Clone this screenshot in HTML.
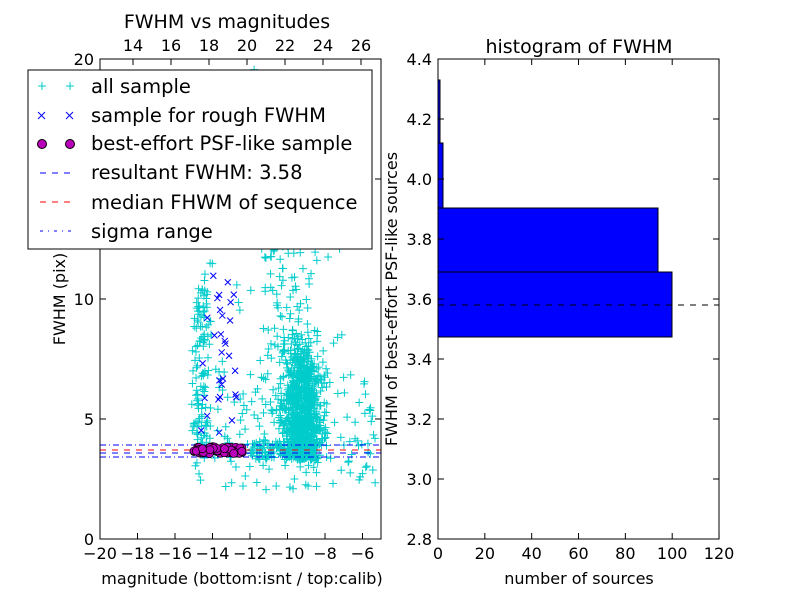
<!DOCTYPE html>
<html><head><style>body{margin:0;background:#fff}svg text{font-family:"DejaVu Sans","Liberation Sans",sans-serif}</style></head>
<body>
<svg id="s" width="800" height="600" xmlns="http://www.w3.org/2000/svg">
<rect width="800" height="600" fill="#fff"/>
<g id="pts"></g>
<line x1="100" x2="381" y1="445" y2="445" stroke="#00f" stroke-dasharray="6,3,1,3"/>
<line x1="100" x2="381" y1="457" y2="457" stroke="#00f" stroke-dasharray="6,3,1,3"/>
<line x1="100" x2="381" y1="450" y2="450" stroke="#f00" stroke-dasharray="6,6"/>
<line x1="100" x2="381" y1="453" y2="453" stroke="#00f" stroke-dasharray="6,6"/>
<g id="circ"></g>
<rect x="100" y="59" width="281" height="480" fill="none" stroke="#000"/>
<g id="lt" font-size="16"></g>
<text x="227" y="28" font-size="19" text-anchor="middle">FWHM vs magnitudes</text>
<text x="242" y="584" font-size="16" text-anchor="middle">magnitude (bottom:isnt / top:calib)</text>
<text transform="translate(65,299) rotate(-90)" font-size="16" text-anchor="middle">FWHM (pix)</text>
<rect x="28" y="70" width="344" height="179" fill="#fff" stroke="#000"/>
<g font-size="19.5">
<text x="91" y="93">all sample</text>
<text x="91" y="122">sample for rough FWHM</text>
<text x="91" y="150">best-effort PSF-like sample</text>
<text x="91" y="179">resultant FWHM: 3.58</text>
<text x="91" y="209">median FHWM of sequence</text>
<text x="91" y="238">sigma range</text>
</g>
<g stroke="#0cc"><path d="M38 86h8M42 82v8M66 86h8M70 82v8"/></g>
<g stroke="#00f"><path d="M38 112l7 7M45 112l-7 7M66 112l7 7M73 112l-7 7"/></g>
<circle cx="42" cy="144" r="4.5" fill="#b0b" stroke="#000"/><circle cx="70" cy="144" r="4.5" fill="#b0b" stroke="#000"/>
<line x1="40" x2="74" y1="173" y2="173" stroke="#00f" stroke-dasharray="6,6"/>
<line x1="40" x2="74" y1="202" y2="202" stroke="#f00" stroke-dasharray="6,6"/>
<line x1="40" x2="74" y1="231" y2="231" stroke="#00f" stroke-dasharray="3,5,1,5"/>
<g fill="#00f" stroke="#000">
<rect x="438" y="272" width="234" height="65"/>
<rect x="438" y="208" width="220" height="64"/>
<rect x="438" y="143" width="5" height="65"/>
<rect x="438" y="80" width="2" height="63"/>
</g>
<line x1="438" x2="719" y1="305" y2="305" stroke="#000" stroke-dasharray="6,6"/>
<rect x="438" y="59" width="281" height="480" fill="none" stroke="#000"/>
<g id="rt" font-size="16"></g>
<text x="579" y="53" font-size="19" text-anchor="middle">histogram of FWHM</text>
<text x="579" y="584" font-size="16" text-anchor="middle">number of sources</text>
<text transform="translate(397,299) rotate(-90)" font-size="16" text-anchor="middle">FWHM of best-effort PSF-like sources</text>
</svg>
<script>
var NS="http://www.w3.org/2000/svg";
function el(p,t,a,txt){var e=document.createElementNS(NS,t);for(var k in a)e.setAttribute(k,a[k]);if(txt!==undefined)e.textContent=txt;p.appendChild(e);return e;}
var seed=7;function r(){seed=(seed*16807)%2147483647;return seed/2147483647;}
function g(){return (r()+r()+r()+r()-2)*0.87;}
var pts=document.getElementById('pts');var d='';
function X(m){return 100+(m+20)*18.75;}function Y(f){return 539-f*24;}
function plus(x,y){if(x<100||x>381||y<59||y>539)return;d+='M'+(x-4)+' '+y+'h8M'+x+' '+(y-4)+'v8';}
for(var i=0;i<900;i++){var m=-9.2+g()*1.0,f=5.8+g()*2.4;if(r()<0.3)f=3.3+r()*1.8;plus(X(m),Y(f));}
for(var i=0;i<180;i++){plus(X(-10+g()*1.5),Y(3+r()*11));}
for(var i=0;i<100;i++){plus(X(-14.6+g()*0.5),Y(3.5+r()*7));}
for(var i=0;i<150;i++){plus(X(-15+r()*10),Y(2+r()*5));}
for(var i=0;i<90;i++){plus(X(-15+r()*8),Y(3.5+r()*16.5));}
for(var i=0;i<120;i++){plus(X(-12+r()*3.5),Y(3.3+r()*0.8));}
el(pts,'path',{d:d,stroke:'#0cc',fill:'none','stroke-width':1});
var dx='';
for(var i=0;i<30;i++){var x=X(-13.5+g()*0.9),y=Y(4+r()*7);dx+='M'+(x-3)+' '+(y-3)+'l6 6M'+(x+3)+' '+(y-3)+'l-6 6';}
el(pts,'path',{d:dx,stroke:'#00f',fill:'none'});
var c=document.getElementById('circ');
for(var i=0;i<70;i++){el(c,'circle',{cx:X(-15+r()*2.6),cy:Y(3.55+r()*0.3),r:4,fill:'#b0b',stroke:'#000','stroke-width':0.7});}
var lt=document.getElementById('lt');
for(var v=-20;v<=-6;v+=2){var x=X(v);el(lt,'line',{x1:x,x2:x,y1:539,y2:533,stroke:'#000'});el(lt,'text',{x:x,y:559,'text-anchor':'middle'},'\u2212'+(-v));}
for(var v=0;v<=20;v+=5){var y=Y(v);el(lt,'line',{x1:100,x2:106,y1:y,y2:y,stroke:'#000'});el(lt,'line',{x1:381,x2:375,y1:y,y2:y,stroke:'#000'});el(lt,'text',{x:94,y:y+6,'text-anchor':'end'},v);}
for(var v=14;v<=26;v+=2){var x=247+(v-20)*19;el(lt,'line',{x1:x,x2:x,y1:59,y2:65,stroke:'#000'});el(lt,'text',{x:x,y:51,'text-anchor':'middle'},v);}
var rt=document.getElementById('rt');
for(var v=0;v<=120;v+=20){var x=438+v*2.342;el(rt,'line',{x1:x,x2:x,y1:539,y2:533,stroke:'#000'});el(rt,'line',{x1:x,x2:x,y1:59,y2:65,stroke:'#000'});el(rt,'text',{x:x,y:559,'text-anchor':'middle'},v);}
for(var v=28;v<=44;v+=2){var y=539-(v/10-2.8)*300;el(rt,'line',{x1:438,x2:444,y1:y,y2:y,stroke:'#000'});el(rt,'line',{x1:719,x2:713,y1:y,y2:y,stroke:'#000'});el(rt,'text',{x:432,y:y+6,'text-anchor':'end'},(v/10).toFixed(1));}
</script>
</body></html>
